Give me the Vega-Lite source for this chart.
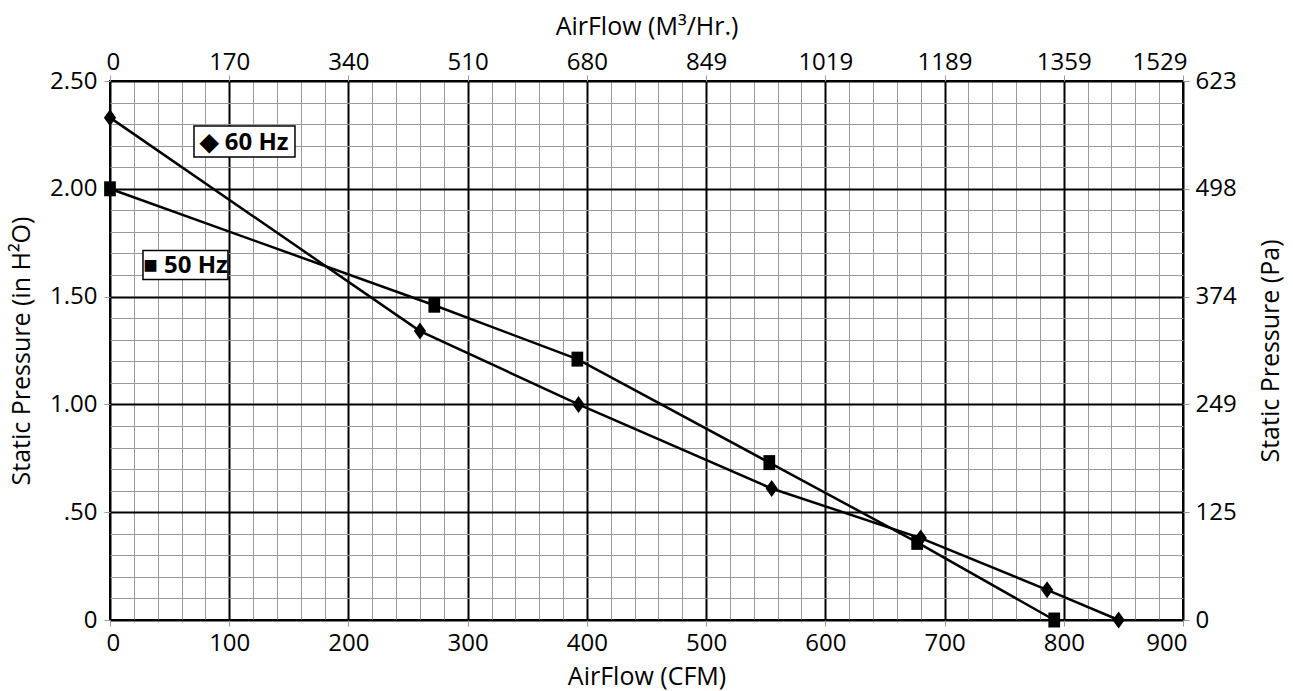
{
  "$schema": "https://vega.github.io/schema/vega-lite/v6.json",
  "width": 1073,
  "height": 539,
  "autosize": "none",
  "padding": {"left": 110, "top": 81, "right": 110, "bottom": 71},
  "background": "white",
  "config": {
    "font": "Open Sans",
    "view": {"stroke": "black", "strokeWidth": 2},
    "axis": {
      "labelFont": "Open Sans",
      "labelFontSize": 24,
      "labelColor": "black",
      "titleFont": "Open Sans",
      "titleFontSize": 25,
      "titleFontWeight": "normal",
      "titleColor": "black",
      "domain": false,
      "labelOverlap": false
    }
  },
  "datasets": {
    "curves": [
      {"series": "60 Hz", "cfm": 0, "p": 2.33},
      {"series": "60 Hz", "cfm": 260, "p": 1.34},
      {"series": "60 Hz", "cfm": 393, "p": 1.0},
      {"series": "60 Hz", "cfm": 555, "p": 0.61},
      {"series": "60 Hz", "cfm": 680, "p": 0.38},
      {"series": "60 Hz", "cfm": 786, "p": 0.14},
      {"series": "60 Hz", "cfm": 846, "p": 0.0},
      {"series": "50 Hz", "cfm": 0, "p": 2.0},
      {"series": "50 Hz", "cfm": 272, "p": 1.46},
      {"series": "50 Hz", "cfm": 392, "p": 1.21},
      {"series": "50 Hz", "cfm": 553, "p": 0.73},
      {"series": "50 Hz", "cfm": 677, "p": 0.36},
      {"series": "50 Hz", "cfm": 792, "p": 0.0}
    ],
    "labels": [
      {"label": "◆ 60 Hz", "cfm": 112.8, "p": 2.219},
      {"label": "■ 50 Hz", "cfm": 63.3, "p": 1.647}
    ]
  },
  "layer": [
    {
      "data": {"name": "curves"},
      "mark": {"type": "line", "color": "black", "strokeWidth": 2.5},
      "encoding": {
        "x": {
          "field": "cfm", "type": "quantitative",
          "scale": {"domain": [0, 900], "nice": false, "zero": false},
          "axis": {
            "orient": "bottom",
            "values": [0,20,40,60,80,100,120,140,160,180,200,220,240,260,280,300,320,340,360,380,400,420,440,460,480,500,520,540,560,580,600,620,640,660,680,700,720,740,760,780,800,820,840,860,880,900],
            "grid": true, "gridColor": "#999999", "gridWidth": 1,
            "tickSize": 6,
            "tickColor": {"condition": {"test": "datum.value % 100 === 0", "value": "#999999"}, "value": "transparent"},
            "labelExpr": "datum.value % 100 === 0 ? datum.label : ''",
            "labelFlush": true, "labelFlushOffset": 4, "labelPadding": 5,
            "title": "AirFlow (CFM)", "titlePadding": 9
          }
        },
        "y": {
          "field": "p", "type": "quantitative",
          "scale": {"domain": [0, 2.5], "nice": false},
          "axis": {
            "orient": "left",
            "values": [0,0.1,0.2,0.3,0.4,0.5,0.6,0.7,0.8,0.9,1,1.1,1.2,1.3,1.4,1.5,1.6,1.7,1.8,1.9,2,2.1,2.2,2.3,2.4,2.5],
            "grid": true, "gridColor": "#999999", "gridWidth": 1,
            "tickSize": 6,
            "tickColor": {"condition": {"test": "round(datum.value * 10) % 5 === 0", "value": "#999999"}, "value": "transparent"},
            "labelExpr": "round(datum.value * 10) % 5 !== 0 ? '' : (datum.value < 0.01 ? '0' : (datum.value < 0.9 ? '.50' : format(datum.value, '.2f')))",
            "labelFlush": false, "labelPadding": 7,
            "title": "Static Pressure (in H²O)", "titlePadding": 15
          }
        },
        "detail": {"field": "series"}
      }
    },
    {
      "data": {"name": "curves"},
      "mark": {"type": "point", "filled": true, "color": "black", "opacity": 1, "size": 289},
      "encoding": {
        "x": {
          "field": "cfm", "type": "quantitative",
          "axis": {
            "orient": "top",
            "values": [0,100,200,300,400,500,600,700,800,900],
            "grid": true, "gridColor": "black", "gridWidth": 2,
            "tickSize": 6, "tickColor": "#999999",
            "labelExpr": "['0','170','340','510','680','849','1019','1189','1359','1529'][round(datum.value / 100)]",
            "labelFlush": true, "labelFlushOffset": 4, "labelPadding": 1,
            "title": "AirFlow (M³/Hr.)", "titlePadding": 11
          }
        },
        "y": {
          "field": "p", "type": "quantitative",
          "axis": {
            "orient": "right",
            "values": [0,0.5,1,1.5,2,2.5],
            "grid": true, "gridColor": "black", "gridWidth": 2,
            "tickSize": 6, "tickColor": "#999999",
            "labelExpr": "['0','125','249','374','498','623'][round(datum.value * 2)]",
            "labelFlush": false, "labelPadding": 6,
            "title": "Static Pressure (Pa)", "titleAngle": -90, "titleBaseline": "top", "titlePadding": 22
          }
        },
        "shape": {
          "field": "series", "type": "nominal",
          "scale": {"domain": ["60 Hz", "50 Hz"], "range": ["M0,-1L0.72,0L0,1L-0.72,0Z", "M-0.69,-0.88H0.69V0.88H-0.69Z"]},
          "legend": null
        }
      }
    },
    {
      "data": {"name": "labels"},
      "mark": {"type": "point", "filled": false, "fill": "white", "fillOpacity": 1, "stroke": "black", "strokeWidth": 1.5, "opacity": 1, "size": 10816},
      "encoding": {
        "x": {"field": "cfm", "type": "quantitative", "axis": null},
        "y": {"field": "p", "type": "quantitative", "axis": null},
        "shape": {
          "field": "label", "type": "nominal",
          "scale": {"domain": ["◆ 60 Hz", "■ 50 Hz"], "range": ["M-0.971,-0.298H0.971V0.298H-0.971Z", "M-0.817,-0.279H0.817V0.279H-0.817Z"]},
          "legend": null
        }
      }
    },
    {
      "data": {"name": "labels"},
      "mark": {"type": "text", "font": "Open Sans", "fontSize": 24, "fontWeight": "bold", "color": "black", "align": "center", "baseline": "middle", "dy": 1},
      "encoding": {
        "x": {"field": "cfm", "type": "quantitative", "axis": null},
        "y": {"field": "p", "type": "quantitative", "axis": null},
        "text": {"field": "label"}
      }
    }
  ],
  "resolve": {
    "axis": {"x": "independent", "y": "independent"},
    "scale": {"shape": "independent"}
  }
}
